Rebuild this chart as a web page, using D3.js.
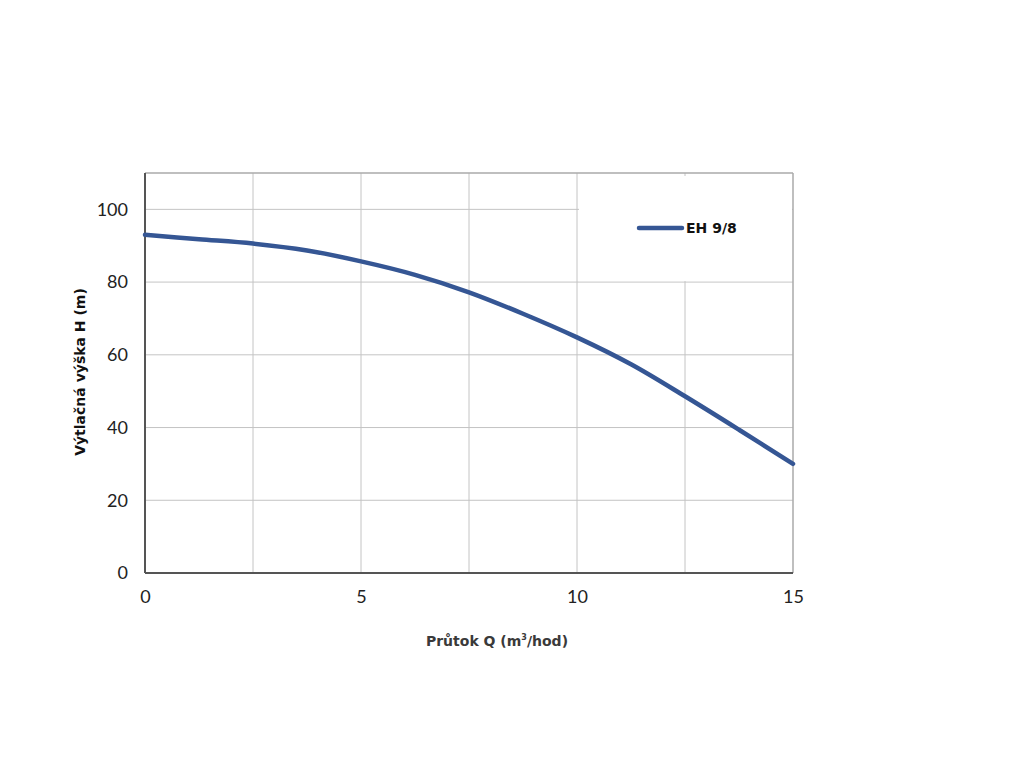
<!DOCTYPE html>
<html><head><meta charset="utf-8">
<script src="https://cdn.jsdelivr.net/npm/d3@7/dist/d3.min.js"></script>
<style>body{margin:0;background:#fff}</style>
</head><body>
<svg id="c" width="1024" height="768"></svg>
<script>
const flowQ = [0, 1.25, 2.5, 3.75, 5, 6.25, 7.5, 8.75, 10, 11.25, 12.5, 13.75, 15];
const headH = [93, 91.8, 90.6, 88.7, 85.7, 82.0, 77.2, 71.3, 64.8, 57.4, 48.6, 39.4, 30];
const xTicks = [0, 5, 10, 15];
const yTicks = [0, 20, 40, 60, 80, 100];
const xGrid = [2.5, 5, 7.5, 10, 12.5];
const seriesName = "EH 9/8";

const svg = d3.select("#c");
const L = 145, R = 793, T = 173, B = 573;
const x = d3.scaleLinear().domain([0, 15]).range([L, R]);
const y = d3.scaleLinear().domain([0, 110]).range([B, T]);
const font = "Lato, 'DejaVu Sans', sans-serif";
const bold = "'DejaVu Sans', sans-serif";

// grid
svg.selectAll(".vg").data(xGrid).enter().append("line")
  .attr("x1", d => x(d)).attr("x2", d => x(d)).attr("y1", T).attr("y2", B)
  .attr("stroke", "#c4c4c4").attr("stroke-width", 1);
svg.selectAll(".hg").data(yTicks.filter(d => d > 0)).enter().append("line")
  .attr("x1", L).attr("x2", R).attr("y1", d => y(d)).attr("y2", d => y(d))
  .attr("stroke", "#c4c4c4").attr("stroke-width", 1);

// frame top/right
svg.append("line").attr("x1", L).attr("x2", R).attr("y1", T).attr("y2", T).attr("stroke", "#aaa").attr("stroke-width", 1.5);
svg.append("line").attr("x1", R).attr("x2", R).attr("y1", T).attr("y2", B).attr("stroke", "#aaa").attr("stroke-width", 1.5);

// legend box (white, covers grid)
const lgX0 = x(10) + 2, lgY0 = T + 3, lgY1 = y(80) - 1;
svg.append("rect").attr("x", lgX0).attr("y", lgY0).attr("width", R - 1 - lgX0).attr("height", lgY1 - lgY0).attr("fill", "#fff");

// axes
const yAxis = d3.axisLeft(y).tickValues(yTicks).tickSize(0).tickPadding(17);
const gy = svg.append("g").attr("transform", `translate(${L},0)`).call(yAxis);
gy.select(".domain").attr("stroke", "#555").attr("stroke-width", 2).attr("d", `M0,${T}V${B}`);
gy.selectAll("text").attr("font-family", font).attr("font-size", 18).attr("fill", "#222");

const xAxis = d3.axisBottom(x).tickValues(xTicks).tickSize(0).tickPadding(17);
const gx = svg.append("g").attr("transform", `translate(0,${B})`).call(xAxis);
gx.select(".domain").attr("stroke", "#555").attr("stroke-width", 2).attr("d", `M${L},0H${R}`);
gx.selectAll("text").attr("font-family", font).attr("font-size", 18).attr("fill", "#222");

// curve
const line = d3.line().x((d, i) => x(flowQ[i])).y(d => y(d)).curve(d3.curveCatmullRom);
svg.append("path").datum(headH).attr("d", line)
  .attr("fill", "none").attr("stroke", "#355694").attr("stroke-width", 4.5).attr("stroke-linecap", "round");

// legend
svg.append("line").attr("x1", 639).attr("x2", 682).attr("y1", 228).attr("y2", 228)
  .attr("stroke", "#355694").attr("stroke-width", 4.5).attr("stroke-linecap", "round");
svg.append("text").attr("x", 686).attr("y", 233).text(seriesName)
  .attr("font-family", bold).attr("font-weight", "bold").attr("font-size", 14).attr("fill", "#111");

// axis titles
svg.append("text").attr("transform", "translate(85,372) rotate(-90)").attr("text-anchor", "middle")
  .text("Výtlačná výška H (m)").attr("font-family", bold).attr("font-weight", "bold").attr("font-size", 14).attr("fill", "#111");
const xt = svg.append("text").attr("x", 497).attr("y", 646).attr("text-anchor", "middle")
  .attr("font-family", bold).attr("font-weight", "bold").attr("font-size", 14).attr("fill", "#3a3a3a");
xt.append("tspan").text("Průtok Q (m");
xt.append("tspan").text("3").attr("font-size", 8).attr("dy", -6);
xt.append("tspan").text("/hod)").attr("dy", 6);
</script>
</body></html>
